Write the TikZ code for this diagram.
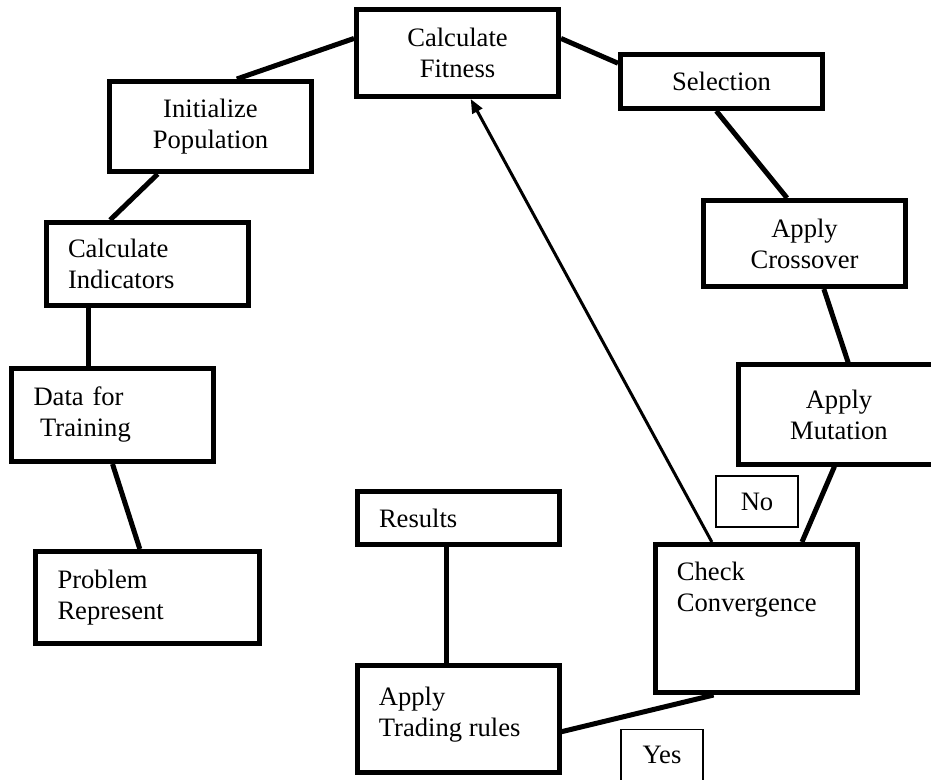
\documentclass[tikz,border=0pt]{standalone}
\usepackage{fontspec}
\setmainfont{Liberation Serif}
\usetikzlibrary{arrows.meta}

\newcommand{\boxfont}{\fontsize{13.3pt}{15.5pt}\selectfont}

\begin{document}
\begin{tikzpicture}[x=0.5pt, y=-0.5pt,
  box/.style={draw, line width=2.5pt, minimum width=101pt, align=center, font=\boxfont},
  lbox/.style={box, align=left, text width=79pt, inner xsep=11pt},
  tag/.style={draw, line width=0.75pt, minimum width=41pt, minimum height=25.5pt, font=\boxfont},
  toptext/.style={anchor=north west, inner sep=0pt, align=left, font=\boxfont, xshift=12pt, yshift=-10pt},
  link/.style={line width=2.5pt},
  back/.style={line width=1.5pt, -{Triangle[length=7pt,width=5.5pt]}}]

  \useasboundingbox (0,0) rectangle (931,780);

  \node[box, minimum height=43.5pt] (fit) at (457.5,53) {Calculate\\Fitness};
  \node[box, minimum height=27pt] (sel) at (721.5,81.5) {Selection};
  \node[box, minimum height=45pt] (init) at (210.5,126.5) {Initialize\\Population};
  \node[lbox, minimum height=41.5pt] (ind) at (147,264) {Calculate\\Indicators};
  \node[lbox, minimum height=46.5pt] (data) at (112.5,415) {Data for\\\hspace*{0.25em}Training};
  \node[lbox, text width=90pt, minimum height=46pt] (prob) at (147.5,597.5) {Problem\\Represent};
  \node[box, minimum height=43pt] (cross) at (804.5,243.5) {Apply\\Crossover};
  \node[box, minimum height=49.5pt] (mut) at (839,414.5) {Apply\\Mutation};
  \node[tag] (no) at (757,501.5) {No};
  \node[box, minimum height=74pt, label={[toptext]north west:Check\\Convergence}] (check) at (756,618.5) {};
  \node[lbox, minimum height=26.5pt] (res) at (458,518) {Results};
  \node[box, minimum height=53.5pt, label={[toptext, yshift=-2pt]north west:Apply\\Trading rules}] (trade) at (458,719) {};
  \node[tag] (yes) at (662,755) {Yes};

  % cycle
  \draw[link] (fit.172) -- (init.61);
  \draw[link] (fit.8) -- (sel.170);
  \draw[link] (init.222) -- (ind.130);
  \draw[link] ([xshift=-29.5pt]ind.south) -- ([xshift=-12.25pt]data.north);
  \draw[link] (data.south) -- (prob.99);
  \draw[link] (sel.260) -- (cross.111);
  \draw[link] (cross.293) -- (mut.80);
  \draw[link] (mut.265) -- (check.59);
  \draw[back] (check.120) -- (fit.286);

  % exit
  \draw[link] (trade.353) -- (check.241);
  \draw[link] ([xshift=-6pt]res.south) -- ([xshift=-6pt]trade.north);

\end{tikzpicture}
\end{document}
